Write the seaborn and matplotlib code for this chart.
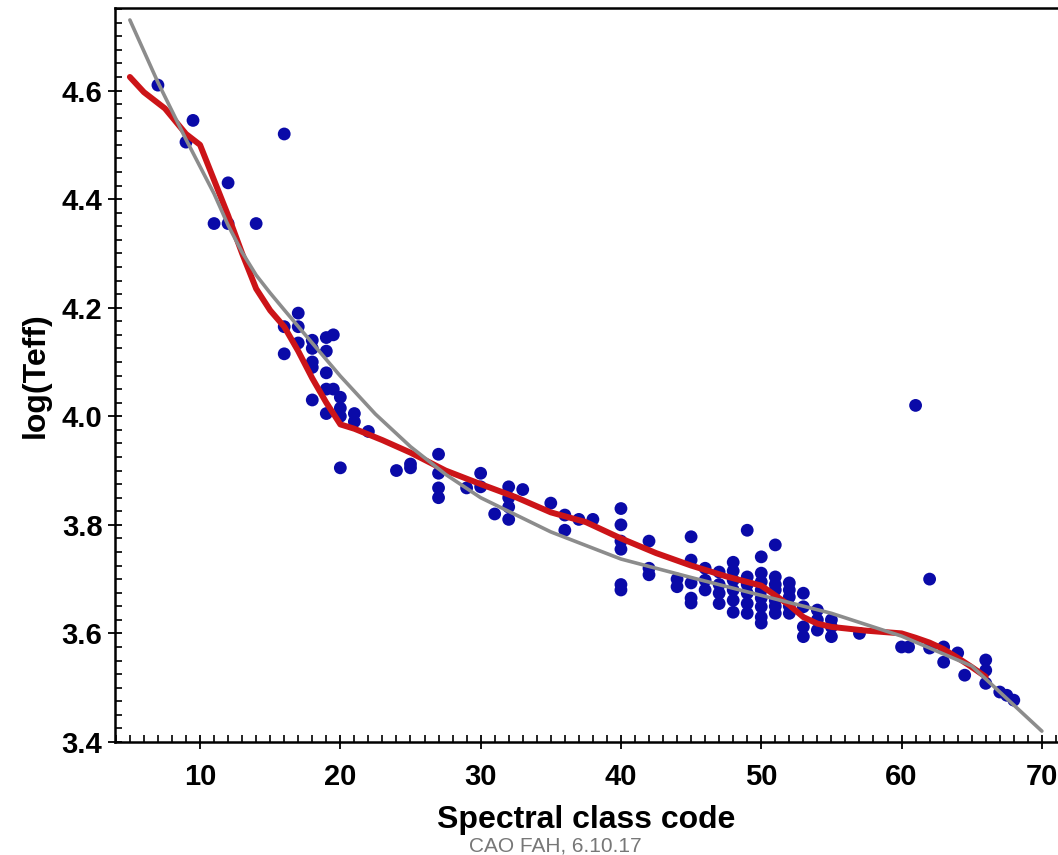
import matplotlib
matplotlib.use("Agg")
import matplotlib.pyplot as plt
from matplotlib.ticker import MultipleLocator, FormatStrFormatter
import pandas as pd
import seaborn as sns

# observed stars: spectral class code vs log(Teff)
spec_code = [7, 9.5, 9, 16, 12, 11, 12, 14,
             17, 16, 17, 17, 16, 18, 19, 19.5, 19, 18, 18, 18, 19, 18, 19, 19.5,
             20, 20, 19, 21, 21, 20, 22, 20, 24, 25, 25,
             27, 27, 27, 27, 29, 30, 30, 32, 33, 32, 32, 31, 32,
             35, 36, 36, 37, 38,
             40, 40, 40, 40, 40, 40, 42, 42, 42, 44, 44,
             45, 45, 45, 45, 45, 46, 46, 46, 47, 47, 47, 47,
             48, 48, 48, 48, 48, 48, 49, 49, 49, 49, 49, 49,
             50, 50, 50, 50, 50, 50, 50, 50, 51, 51, 51, 51, 51, 51, 51,
             52, 52, 52, 52, 52, 53, 53, 53, 53, 54, 54, 54,
             55, 55, 55, 57, 60, 60.5, 61, 62, 62, 63, 63, 64, 64.5,
             66, 66, 66, 67, 67.5, 68]
log_teff = [4.61, 4.545, 4.505, 4.52, 4.43, 4.355, 4.355, 4.355,
            4.19, 4.165, 4.165, 4.135, 4.115, 4.14, 4.145, 4.15, 4.12, 4.125, 4.10, 4.09, 4.08, 4.03, 4.05, 4.05,
            4.035, 4.015, 4.005, 4.005, 3.99, 4.0, 3.972, 3.905, 3.90, 3.912, 3.905,
            3.93, 3.895, 3.868, 3.85, 3.868, 3.895, 3.87, 3.87, 3.865, 3.85, 3.833, 3.82, 3.81,
            3.84, 3.818, 3.79, 3.81, 3.81,
            3.83, 3.80, 3.77, 3.755, 3.69, 3.68, 3.77, 3.72, 3.708, 3.70, 3.686,
            3.778, 3.735, 3.693, 3.665, 3.656, 3.72, 3.698, 3.68, 3.713, 3.674, 3.69, 3.655,
            3.731, 3.698, 3.661, 3.639, 3.68, 3.715, 3.79, 3.704, 3.674, 3.637, 3.655, 3.69,
            3.741, 3.711, 3.68, 3.649, 3.619, 3.665, 3.695, 3.63, 3.763, 3.704, 3.68, 3.661, 3.637, 3.65, 3.69,
            3.693, 3.667, 3.637, 3.68, 3.65, 3.674, 3.649, 3.594, 3.612, 3.643, 3.625, 3.606,
            3.625, 3.594, 3.612, 3.60, 3.575, 3.575, 4.02, 3.70, 3.573, 3.575, 3.547, 3.564, 3.523,
            3.551, 3.532, 3.508, 3.492, 3.486, 3.477]

# smooth fit (gray)
fit_x = [5, 7, 9, 11, 12, 13, 14, 15, 16, 17.5, 20, 22.5, 25, 27.5, 30, 35, 40, 45,
         50, 55, 60, 65, 70]
fit_y = [4.73, 4.615, 4.51, 4.41, 4.352, 4.302, 4.26, 4.227, 4.196, 4.15, 4.074, 4.004,
         3.944, 3.893, 3.850, 3.787, 3.737, 3.703, 3.670, 3.637, 3.595, 3.54, 3.42]

# local mean curve (red)
mean_x = [5, 6, 7.5, 9, 10, 11, 12, 13, 14, 15, 16, 17, 18, 19, 20, 21, 23, 25, 27.5, 30,
          32.5, 35, 37.5, 40, 42.5, 45, 47.5, 50, 51, 52, 53, 54, 55, 57.5, 60, 61, 62, 63,
          64, 65, 66]
mean_y = [4.625, 4.597, 4.567, 4.52, 4.50, 4.435, 4.37, 4.30, 4.235, 4.195, 4.165, 4.12,
          4.07, 4.025, 3.985, 3.977, 3.956, 3.933, 3.90, 3.875, 3.851, 3.823, 3.805, 3.775,
          3.748, 3.725, 3.705, 3.688, 3.670, 3.652, 3.63, 3.618, 3.612, 3.605, 3.60, 3.592,
          3.583, 3.571, 3.555, 3.538, 3.52]

stars = pd.DataFrame({"code": spec_code, "logt": log_teff})
fit = pd.DataFrame({"code": fit_x, "logt": fit_y})
mean = pd.DataFrame({"code": mean_x, "logt": mean_y})

sns.set_theme(style="white")
plt.rcParams["font.family"] = ["Liberation Sans", "DejaVu Sans"]
plt.rcParams["font.weight"] = "bold"
plt.rcParams["text.color"] = "black"
plt.rcParams["axes.labelcolor"] = "black"
plt.rcParams["xtick.color"] = "black"
plt.rcParams["ytick.color"] = "black"

fig = plt.figure(figsize=(10.58, 8.55), dpi=100)
ax = fig.add_axes([0.1087, 0.1322, 0.8913, 0.8584])

sns.scatterplot(data=stars, x="code", y="logt", color="#0a0aa8", s=85,
                edgecolor="none", ax=ax, zorder=2)
sns.lineplot(data=mean, x="code", y="logt", color="#cc1418", lw=4.3,
             sort=False, ax=ax, zorder=3)
sns.lineplot(data=fit, x="code", y="logt", color="#8c8c8c", lw=2.6,
             sort=False, ax=ax, zorder=4)

ax.set_xlim(3.94, 71.15)
ax.set_ylim(3.4, 4.752)
ax.xaxis.set_major_locator(MultipleLocator(10))
ax.xaxis.set_minor_locator(MultipleLocator(1))
ax.yaxis.set_major_locator(MultipleLocator(0.2))
ax.yaxis.set_minor_locator(MultipleLocator(0.025))
ax.yaxis.set_major_formatter(FormatStrFormatter("%.1f"))

ax.tick_params(which="major", direction="inout", length=10, width=1.3,
               labelsize=21, colors="black", bottom=True, left=True, pad=4)
ax.tick_params(axis="x", which="major", pad=10)
ax.tick_params(which="minor", direction="in", length=5, width=1.2,
               color="black", bottom=True, left=True)
for lab in ax.get_xticklabels() + ax.get_yticklabels():
    lab.set_fontweight("bold")

for side in ["left", "bottom", "top"]:
    ax.spines[side].set_color("black")
    ax.spines[side].set_linewidth(1.8)
ax.spines["right"].set_visible(False)

ax.set_xlabel("Spectral class code", fontsize=23, fontweight="bold", labelpad=10)
ax.set_ylabel("log(Teff)", fontsize=23, fontweight="bold", labelpad=8)

fig.text(0.525, 0.0, "CAO FAH, 6.10.17", fontsize=15, color="#777777",
         fontweight="normal", ha="center", va="bottom")

fig.savefig("out.png", dpi=100)
